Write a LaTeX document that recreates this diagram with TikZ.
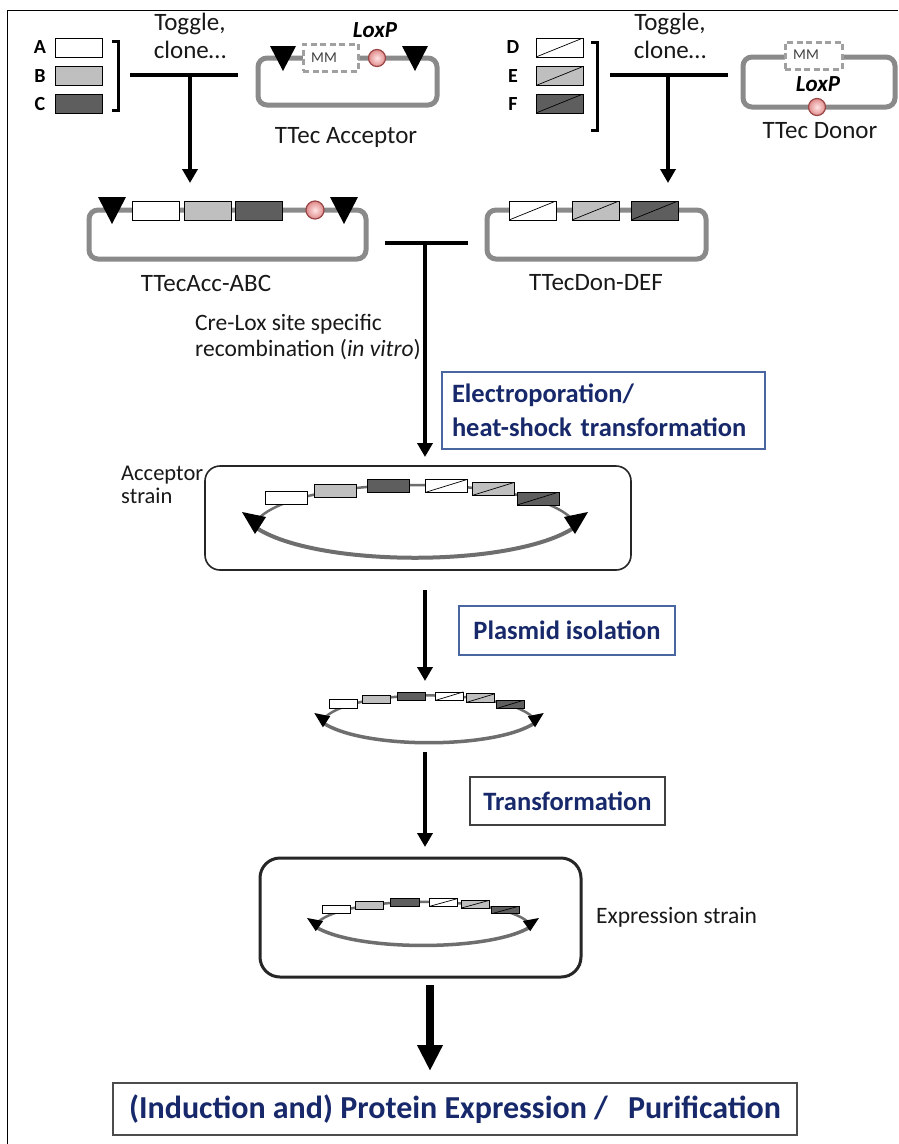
\documentclass[tikz,border=0pt]{standalone}
\usepackage{fontspec}
\setmainfont{Carlito}
\usetikzlibrary{arrows.meta}
\definecolor{plg}{HTML}{8A8A8A}
\definecolor{arcg}{HTML}{6E6E6E}
\definecolor{lgr}{HTML}{BFBFBF}
\definecolor{dgr}{HTML}{5E5E5E}
\definecolor{navy}{HTML}{17296A}
\definecolor{bbord}{HTML}{4A66A0}
\definecolor{mmg}{HTML}{A0A0A0}
\definecolor{loxd}{HTML}{9A4545}
\definecolor{loxo}{HTML}{E08A8A}
\definecolor{loxi}{HTML}{FFE4E4}
\tikzset{
  plasmid/.style={draw=plg, line width=5pt, rounded corners=9pt, inner sep=0pt},
  gene/.style={draw=black, line width=0.8pt, inner sep=0pt, minimum width=47pt, minimum height=19pt},
  diagline/.style={path picture={\draw[line width=0.7pt] (path picture bounding box.south west) -- (path picture bounding box.north east);}},
  rgene/.style={draw=black, line width=0.7pt, inner sep=0pt, minimum width=42pt, minimum height=13pt, transform shape},
  mmbox/.style={draw=mmg, dash pattern=on 6pt off 3.5pt, line width=3pt, fill=white, inner sep=0pt, minimum width=55pt, minimum height=27pt},
  mmtext/.style={font=\fontsize{15}{17}\selectfont, text=black!75, inner sep=0pt},
  lox/.style={circle, draw=loxd, line width=1.2pt, inner sep=0pt, minimum size=17pt, inner color=loxi, outer color=loxo},
  loxlbl/.style={font=\bfseries\itshape\fontsize{23}{27}\selectfont, inner sep=0pt},
  tbar/.style={line width=4pt},
  arr/.style={line width=4pt, -{Triangle[width=15pt,length=14pt]}},
  bigarr/.style={line width=8pt, -{Triangle[width=24pt,length=26pt]}},
  lbl/.style={font=\fontsize{25}{28}\selectfont, inner sep=0pt, text=black!90},
  sm/.style={font=\fontsize{23.5}{26}\selectfont, inner sep=0pt, text=black!90},
  abc/.style={font=\bfseries\fontsize{20}{24}\selectfont, inner sep=0pt},
  stepbox/.style={draw=bbord, line width=1.2pt, font=\bfseries\fontsize{26.5}{34}\selectfont, text=navy, inner sep=0pt},
  strainbox/.style={draw=black!85, inner sep=0pt}
}
\newcommand\recplas[6]{%
\begin{scope}[shift={(#1,#2)},xscale=#3,yscale=#4]
\draw[arcg,line width=#5] (-160,15) .. controls (-100,56) and (100,56) .. (160,15);
\draw[arcg,line width=2.5pt] (-156,6) .. controls (-110,-38) and (110,-38) .. (156,6);
\fill (-173,0) -- (-149,5) -- (-160,22) -- cycle;
\fill (149,5) -- (173,0) -- (160,22) -- cycle;
\node[rgene,fill=white] (#6a) at (-129,-14) {};
\node[rgene,fill=lgr] (#6b) at (-80,-21) {};
\node[rgene,fill=dgr] (#6c) at (-27,-26) {};
\node[rgene,fill=white,diagline] (#6d) at (31,-26) {};
\node[rgene,fill=lgr,diagline] (#6e) at (78,-23) {};
\node[rgene,fill=dgr,diagline] (#6f) at (123,-13.5) {};
\end{scope}}
\begin{document}
\begin{tikzpicture}[x=1pt,y=-1pt]
\useasboundingbox (0,0) rectangle (898,1144);
\fill[white] (0,0) rectangle (898,1144);
\draw[line width=1pt] (7,1144) -- (7,10) -- (898,10);

% ---------- top left: genes A B C ----------
\node[abc] (la) at (40,47) {A};
\node[abc] (lb) at (40,76) {B};
\node[abc] (lc) at (40,104) {C};
\node[gene,fill=white] (ga) at (78.5,47.5) {};
\node[gene,fill=lgr] (gb) at (78.5,76) {};
\node[gene,fill=dgr] (gc) at (78.5,103.5) {};
\draw[line width=3pt] (112,41) -- (118,41) -- (118,110) -- (112,110);

\node[lbl,align=center] (tog1) at (190,36) {Toggle,\\clone…};
\coordinate (t1l) at (130,75); \coordinate (t1r) at (238,75);
\coordinate (t1m) at (190,75); \coordinate (t1e) at (190,183);
\draw[tbar] (t1l) -- (t1r);
\draw[arr] (t1m) -- (t1e);

% ---------- TTec Acceptor ----------
\node[plasmid,minimum width=179pt,minimum height=47pt] (acc) at (347.5,81.5) {};
\fill (270,46) -- (296,46) -- (283,71) -- cycle;
\fill (402,46) -- (428,46) -- (415,71) -- cycle;
\node[mmbox] (accmm) at (330.5,57.5) {};
\node[mmtext] (accmmt) at (324,58) {MM};
\node[lox] (acclox) at (377,58) {};
\node[loxlbl] (accloxl) at (375,30) {LoxP};
\node[lbl] (accl) at (346,137) {TTec Acceptor};

% ---------- top right: genes D E F ----------
\node[abc] (ld) at (513,47) {D};
\node[abc] (le) at (513,76) {E};
\node[abc] (lf) at (513,104) {F};
\node[gene,fill=white,diagline] (gd) at (559.5,47.5) {};
\node[gene,fill=lgr,diagline] (ge) at (559.5,76) {};
\node[gene,fill=dgr,diagline] (gf) at (559.5,103.5) {};
\draw[line width=3pt] (591,42) -- (597,42) -- (597,130) -- (591,130);

\node[lbl,align=center] (tog2) at (670,36) {Toggle,\\clone…};
\coordinate (t2l) at (610,75); \coordinate (t2r) at (728,75);
\coordinate (t2m) at (668,75); \coordinate (t2e) at (668,183);
\draw[tbar] (t2l) -- (t2r);
\draw[arr] (t2m) -- (t2e);

% ---------- TTec Donor ----------
\node[plasmid,minimum width=152pt,minimum height=50pt] (don) at (819,82) {};
\node[mmbox,minimum width=57pt] (donmm) at (813.5,55.5) {};
\node[mmtext] (donmmt) at (806,55) {MM};
\node[loxlbl] (donloxl) at (818,84) {LoxP};
\node[lox] (donlox) at (817,107) {};
\node[lbl] (donl) at (820,131) {TTec Donor};

% ---------- TTecAcc-ABC ----------
\node[plasmid,minimum width=277pt,minimum height=49pt] (abc) at (227.5,234.5) {};
\fill (98,197) -- (126,197) -- (112,224) -- cycle;
\fill (330,197) -- (358,197) -- (344,224) -- cycle;
\node[gene,fill=white] (abca) at (156,210.5) {};
\node[gene,fill=lgr] (abcb) at (207.5,210.5) {};
\node[gene,fill=dgr] (abcc) at (258.5,210.5) {};
\node[lox,minimum size=18pt] (abclox) at (315,210) {};
\node[lbl] (abcl) at (206,283) {TTecAcc-ABC};

% ---------- TTecDon-DEF ----------
\node[plasmid,minimum width=219pt,minimum height=49pt] (def) at (596.5,234.5) {};
\node[gene,fill=white,diagline] (defd) at (532.5,210.5) {};
\node[gene,fill=lgr,diagline] (defe) at (595.5,210.5) {};
\node[gene,fill=dgr,diagline] (deff) at (654.5,210.5) {};
\node[lbl] (defl) at (596,283) {TTecDon-DEF};

% ---------- recombination ----------
\coordinate (t3l) at (385,243); \coordinate (t3r) at (468,243);
\coordinate (t3m) at (425,243); \coordinate (t3e) at (425,457);
\draw[tbar] (t3l) -- (t3r);
\draw[arr] (t3m) -- (t3e);
\node[sm,anchor=west,align=left] (cre) at (195,337) {Cre-Lox site specific\\recombination (\textit{in vitro})};
\node[stepbox,minimum width=323pt,minimum height=77pt,text width=303pt,align=left] (elec) at (603.5,410.5) {Electroporation/\\heat-shock transformation};

% ---------- acceptor strain ----------
\node[sm,anchor=west,align=left,font=\fontsize{22.5}{23}\selectfont] (accs) at (121,485) {Acceptor\\strain};
\node[strainbox,line width=1.6pt,rounded corners=15pt,minimum width=426pt,minimum height=104pt] (accbox) at (418,518) {};
\recplas{415}{512}{1}{1}{4pt}{p1}

\coordinate (a2s) at (425,590); \coordinate (a2e) at (425,681);
\draw[arr] (a2s) -- (a2e);
\node[stepbox,minimum width=216pt,minimum height=49pt] (iso) at (567,630.5) {Plasmid isolation};
\recplas{429}{713}{0.663}{0.65}{3.5pt}{p2}

\coordinate (a3s) at (425,752); \coordinate (a3e) at (425,847);
\draw[arr] (a3s) -- (a3e);
\node[stepbox,draw=black!75,minimum width=195pt,minimum height=48pt] (trf) at (567.5,801) {Transformation};

% ---------- expression strain ----------
\node[strainbox,line width=3pt,rounded corners=20pt,minimum width=321pt,minimum height=119pt] (expbox) at (420.5,917.5) {};
\recplas{423}{918}{0.67}{0.6}{3.5pt}{p3}
\node[sm,anchor=west] (exps) at (596,917) {Expression strain};

\coordinate (a4s) at (430,985); \coordinate (a4e) at (430,1071);
\draw[bigarr] (a4s) -- (a4e);
\node[stepbox,draw=black!70,font=\bfseries\fontsize{32}{36}\selectfont,minimum width=684pt,minimum height=52pt] (prot) at (455,1109) {(Induction and) Protein Expression /\hspace{0.4em} Purification};
\end{tikzpicture}
\end{document}
